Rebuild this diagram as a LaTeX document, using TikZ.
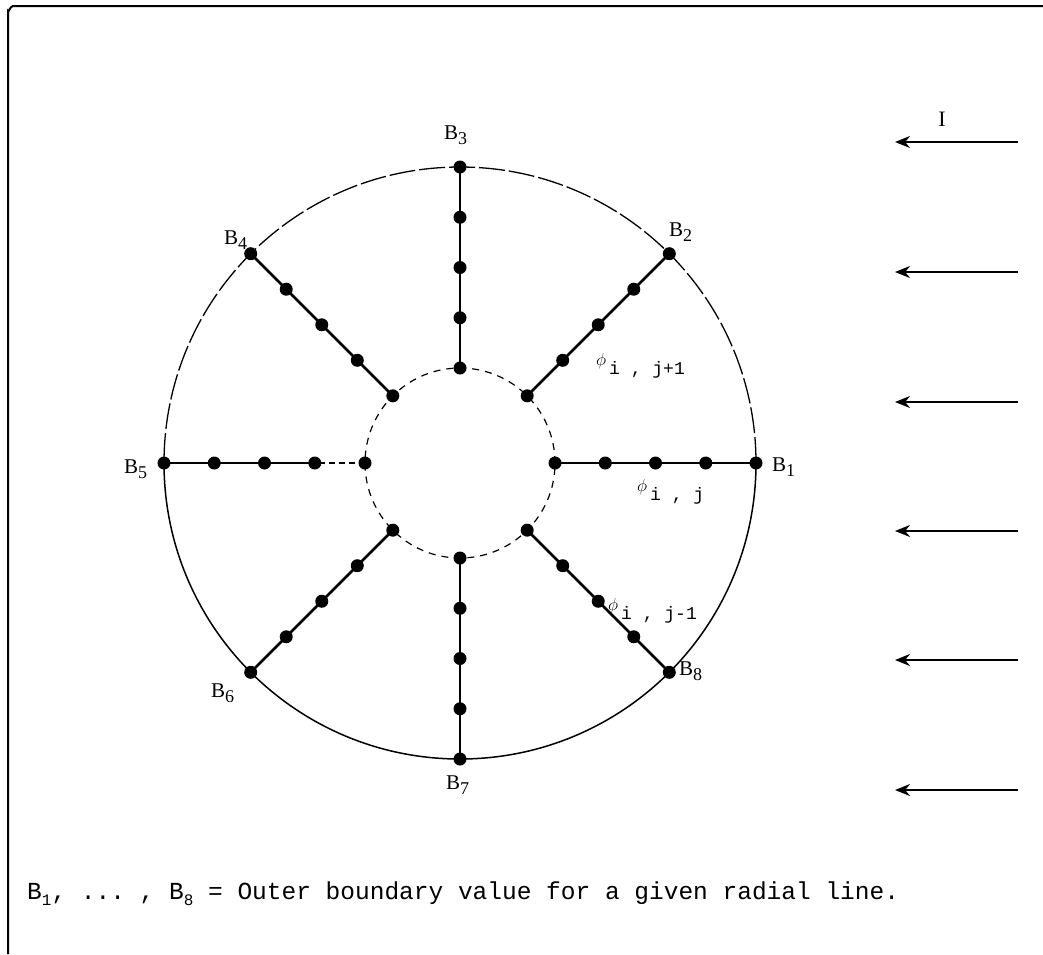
\documentclass[tikz,border=0pt]{standalone}
\usepackage{fontspec}
\setmainfont{Liberation Serif}
\setmonofont{Liberation Mono}
\usetikzlibrary{arrows.meta}
\newcommand\Bsub[1]{\raisebox{-5pt}{\fontsize{18}{18}\selectfont #1}}
\newcommand\Nsub[1]{\raisebox{-6pt}{\fontsize{16}{16}\selectfont #1}}
\newcommand\Phil[1]{\raisebox{9pt}{\fontsize{16}{16}\selectfont$\phi$}\,#1}
\begin{document}
\begin{tikzpicture}[x=1pt,y=-1pt,
  dot/.style={circle,fill=black,inner sep=0pt,minimum size=13pt},
  radial/.style={line width=2.6pt},
  rim/.style={line width=1.5pt},
  rimup/.style={line width=1.3pt,dash pattern=on 26pt off 4pt},
  inner/.style={line width=1.2pt,dash pattern=on 7pt off 6pt},
  flux/.style={line width=2pt,-{Stealth[length=15pt,width=12pt]}},
  blab/.style={font=\fontsize{21}{21}\selectfont,inner sep=0pt,anchor=base west},
  philab/.style={font=\ttfamily\fontsize{18}{18}\selectfont,inner sep=0pt,anchor=base west},
  note/.style={font=\ttfamily\fontsize{24.5}{24.5}\selectfont,inner sep=0pt,anchor=base west}]
\useasboundingbox (0,0) rectangle (1043,954);
\fill[white] (0,0) rectangle (1043,954);
% frame
\draw[line width=2pt] (8,954) -- (8,11) to[out=-90,in=180] (13,6) -- (1043,6);
% circles
\coordinate (c) at (460,463);
\draw[rim] ([shift={(0:296pt)}]c) arc[start angle=0,end angle=-180,radius=296pt];
\draw[rimup] ([shift={(0:296pt)}]c) arc[start angle=0,end angle=180,radius=296pt];
\draw[inner] (c) circle[radius=95pt];
% dots
\foreach \k in {1,...,8}{
  \pgfmathsetmacro\ang{45*(\k-1)}
  \foreach \m in {0,...,4}{
    \pgfmathsetmacro\rr{95+\m*50.25}
    \node[dot] (d\k\m) at ([shift={(\ang:\rr pt)}]c) {};
  }
}
% radial lines
\foreach \k in {1,2,3,4,6,7,8}{
  \draw[radial] (d\k0.center) -- (d\k4.center);
}
\draw[radial] (d51.center) -- (d54.center);
\draw[line width=1.8pt,dash pattern=on 6pt off 4pt] (d50.center) -- (d51.center);
% boundary labels
\node[blab] (b1) at (772,471) {B\Bsub{1}};
\node[blab] (b2) at (669,236) {B\Bsub{2}};
\node[blab] (b3) at (444,139) {B\Bsub{3}};
\node[blab] (b4) at (224,244) {B\Bsub{4}};
\node[blab] (b5) at (124,473) {B\Bsub{5}};
\node[blab] (b6) at (211,697) {B\Bsub{6}};
\node[blab] (b7) at (446,789) {B\Bsub{7}};
\node[blab] (b8) at (679,675) {B\Bsub{8}};
% phi labels
\node[philab] (p1) at (596,374) {\Phil{i , j+1}};
\node[philab] (p2) at (637,500) {\Phil{i , j}};
\node[philab] (p3) at (608,619) {\Phil{i , j-1}};
% incident flux
\node[font=\fontsize{22}{22}\selectfont,inner sep=0pt] (lI) at (942,119) {I};
\foreach \i/\yy in {1/142,2/272,3/402,4/531,5/660,6/790}{
  \coordinate (s\i) at (1018,\yy);
  \coordinate (e\i) at (895,\yy);
  \draw[flux] (s\i) -- (e\i);
}
% note
\node[note] (nt) at (27,899) {B\Nsub{1}, ... , B\Nsub{8} = Outer boundary value for a given radial line.};
\end{tikzpicture}
\end{document}
